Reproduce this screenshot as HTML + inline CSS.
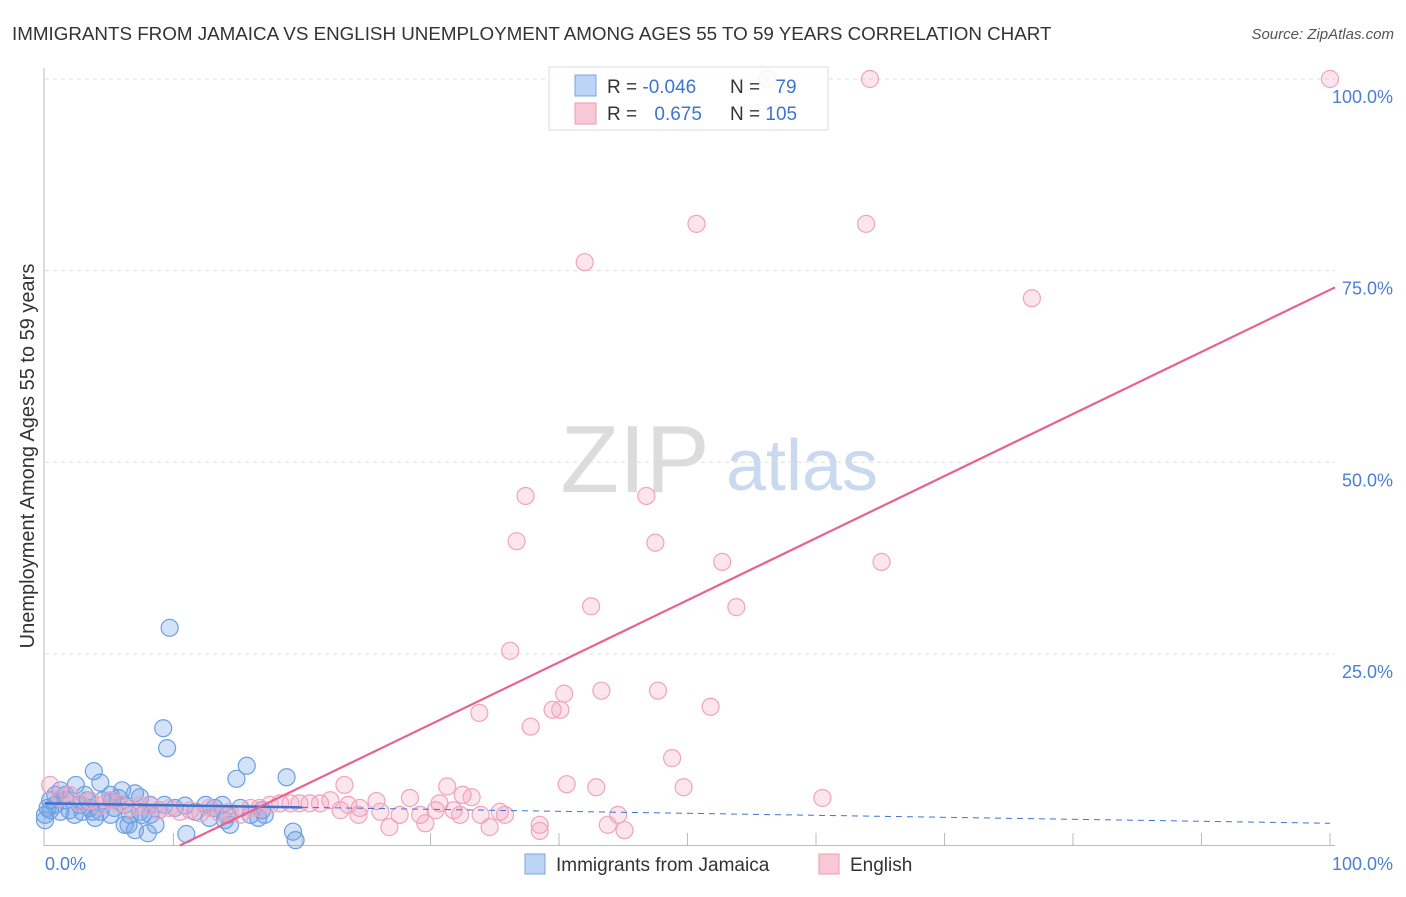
<!DOCTYPE html>
<html><head><meta charset="utf-8"><style>
body{margin:0;background:#fff;font-family:"Liberation Sans",sans-serif}
svg text{font-family:"Liberation Sans",sans-serif}
</style></head><body>
<svg width="1406" height="892" xmlns="http://www.w3.org/2000/svg">
<text x="12" y="40" font-size="18.8" fill="#333">IMMIGRANTS FROM JAMAICA VS ENGLISH UNEMPLOYMENT AMONG AGES 55 TO 59 YEARS CORRELATION CHART</text>
<text x="1394" y="39" font-size="15" fill="#555" font-style="italic" text-anchor="end">Source: ZipAtlas.com</text>
<text x="635" y="492" font-size="96" fill="#dcdcdc" font-family="Liberation Serif" text-anchor="middle">ZIP</text>
<text x="802" y="490" font-size="72" fill="#c9d9ef" text-anchor="middle">atlas</text>
<g id="grid"></g>
<g id="axes"></g>
<g id="pts"></g>
<g id="trend"></g>
<text transform="translate(34,456) rotate(-90)" font-size="20" fill="#333" text-anchor="middle">Unemployment Among Ages 55 to 59 years</text>
<text x="45" y="870" font-size="18" fill="#4a7fd4">0.0%</text>
<text x="1393" y="870" font-size="18" fill="#4a7fd4" text-anchor="end">100.0%</text>
<g>
<rect x="525" y="854" width="20" height="20" fill="#bcd4f5" stroke="#7aa6e6"/>
<text x="556" y="871" font-size="19" fill="#333">Immigrants from Jamaica</text>
<rect x="819" y="854" width="20" height="20" fill="#f9c8d7" stroke="#eb9ab4"/>
<text x="850" y="871" font-size="19" fill="#333">English</text>
</g>
<g>
<rect x="549" y="67" width="279" height="63" fill="rgba(255,255,255,0.85)" stroke="#ddd"/>
<rect x="575" y="75" width="21" height="21" fill="#bcd4f5" stroke="#7aa6e6"/>
<text x="607" y="93" font-size="19" fill="#333">R = <tspan fill="#3d74cf">-0.046</tspan></text>
<text x="730" y="93" font-size="19" fill="#333">N = <tspan fill="#3d74cf" dx="10">79</tspan></text>
<rect x="575" y="103" width="21" height="21" fill="#f9c8d7" stroke="#eb9ab4"/>
<text x="607" y="120" font-size="19" fill="#333">R = <tspan fill="#3d74cf" dx="12">0.675</tspan></text>
<text x="730" y="120" font-size="19" fill="#333">N = <tspan fill="#3d74cf">105</tspan></text>
</g>
</svg>
<script>
const yTicks=[25,50,75,100];
const yTickLabels=["25.0%","50.0%","75.0%","100.0%"];
const pinkX=[56.2,64.2,100,50.7,63.9,42.0,76.8,37.4,46.8,36.7,47.5,52.7,65.1,42.5,53.8,36.2,40.4,43.3,47.7,51.8,33.8,39.5,40.1,37.8,48.8,49.7,60.5,40.6,42.9,31.3,23.3,28.4,30.7,32.5,33.2,25.8,24.4,26.8,29.6,34.6,38.5,38.5,43.8,45.1,44.6,35.4,35.8,31.8,32.3,23.6,22.2,20.6,19.1,17.5,16.0,14.4,12.8,11.3,9.7,8.2,6.6,5.1,3.5,1.9,0.4,1.2,2.7,4.3,5.8,7.4,8.9,10.5,12.1,13.6,15.2,16.7,18.3,19.8,21.4,23.0,24.5,26.1,27.6,29.2,30.4,33.9];
const pinkY=[100,100,100,81.1,81.1,76.1,71.4,45.6,45.6,39.7,39.5,37.0,37.0,31.2,31.1,25.4,19.8,20.2,20.2,18.1,17.3,17.7,17.7,15.5,11.4,7.6,6.2,8.0,7.6,7.7,7.9,6.2,5.5,6.6,6.3,5.8,4.0,2.4,2.9,2.4,2.7,1.9,2.7,2.0,4.0,4.4,4.0,4.6,4.0,5.3,5.9,5.5,5.5,5.3,4.9,4.4,4.9,4.6,4.9,5.2,4.9,5.9,5.9,6.6,7.9,6.2,5.5,5.2,5.5,5.2,4.6,4.4,4.2,4.2,4.0,4.9,5.5,5.5,5.5,4.6,4.9,4.4,4.0,4.0,4.6,4.0];
const blueX=[9.7,9.2,9.5,3.8,15.7,14.9,18.8,1.2,2.4,4.3,6.0,7.0,7.4,3.1,5.1,0.4,0.8,1.6,1.9,2.7,3.5,4.3,5.4,6.2,6.6,7.4,8.2,8.9,0,0.4,1.2,2.3,3.9,5.1,6.2,7.0,8.0,8.6,11.0,12.8,14.0,14.4,16.6,16.9,15.2,13.8,12.5,10.9,19.3,19.5,0,0.2,0.8,1.6,3.3,4.5,5.7,6.5,7.6,13.2,14.2,16.0,17.1,10.1,11.7,5.2,2.9,3.7,8.2,9.3];
const blueY=[28.4,15.3,12.7,9.7,10.4,8.7,8.9,7.2,7.9,8.2,7.2,6.8,6.3,6.6,6.6,5.9,5.3,5.9,4.6,5.3,4.9,4.4,4.9,5.3,4.0,4.4,5.3,4.6,4.0,4.6,4.4,4.0,3.6,4.0,2.7,2.0,1.6,2.7,1.5,3.6,3.3,2.7,3.6,4.6,4.9,5.3,5.3,5.2,1.8,0.7,3.3,4.9,6.6,6.6,5.9,5.9,6.2,2.7,4.0,4.9,4.0,4.0,4.0,4.9,4.4,5.9,4.4,4.4,4.0,5.3];
const blueTrend=[5.5,2.9];
const pinkTrend=[-8.5,72.5];
const X0=45,X1=1330,Y0=845.5,Y1=79;
const sx=v=>X0+(X1-X0)*v/100, sy=v=>Y0-(Y0-Y1)*v/100;
const NS="http://www.w3.org/2000/svg";
function mk(t,a,p){const e=document.createElementNS(NS,t);for(const k in a)e.setAttribute(k,a[k]);p.appendChild(e);return e;}
const grid=document.getElementById('grid'),axes=document.getElementById('axes'),pts=document.getElementById('pts'),tr=document.getElementById('trend');
yTicks.forEach((t,i)=>{
 const l=mk('line',{x1:45,x2:1335,y1:sy(t),y2:sy(t),stroke:'#ddd','stroke-dasharray':'4,4'},grid);
 
 
 const tx=mk('text',{x:1393,y:sy(t)+24,'font-size':18,fill:'#4a7fd4','text-anchor':'end'},grid);
 tx.textContent=yTickLabels[i];
 
 
});
const ya=mk('line',{x1:44,x2:44,y1:68,y2:846,stroke:'#bbb'},axes);


const xa=mk('line',{x1:44,x2:1335,y1:845.5,y2:845.5,stroke:'#bbb'},axes);


for(let k=1;k<=10;k++){const t=mk('line',{x1:sx(k*10),x2:sx(k*10),y1:833,y2:845,stroke:'#bbb'},axes);
 
 }
blueX.forEach((v,i)=>{const c=mk('circle',{cx:sx(v),cy:sy(blueY[i]),r:8.5,fill:'rgba(110,160,230,0.3)',stroke:'#6e9fe3','stroke-width':1.2},pts);
 
 });
pinkX.forEach((v,i)=>{const c=mk('circle',{cx:sx(v),cy:sy(pinkY[i]),r:8.5,fill:'rgba(245,160,190,0.28)',stroke:'#f0a3bd','stroke-width':1.2},pts);
 
 });
const bAt=x=>blueTrend[0]+(blueTrend[1]-blueTrend[0])*x/100;
const b1=mk('line',{x1:sx(0),y1:sy(bAt(0)),x2:sx(20),y2:sy(bAt(20)),stroke:'#3d74cf','stroke-width':2.5},tr);


const b2=mk('line',{x1:sx(20),y1:sy(bAt(20)),x2:sx(100),y2:sy(bAt(100)),stroke:'#3d74cf','stroke-width':1,'stroke-dasharray':'6,5'},tr);


const pAt=x=>pinkTrend[0]+(pinkTrend[1]-pinkTrend[0])*x/100;
const xs=-pinkTrend[0]/(pinkTrend[1]-pinkTrend[0])*100;
const p=mk('line',{x1:sx(xs),y1:sy(0),x2:sx(100.4),y2:sy(pAt(100.4)),stroke:'#e8628f','stroke-width':2.2},tr);


</script>
</body></html>
